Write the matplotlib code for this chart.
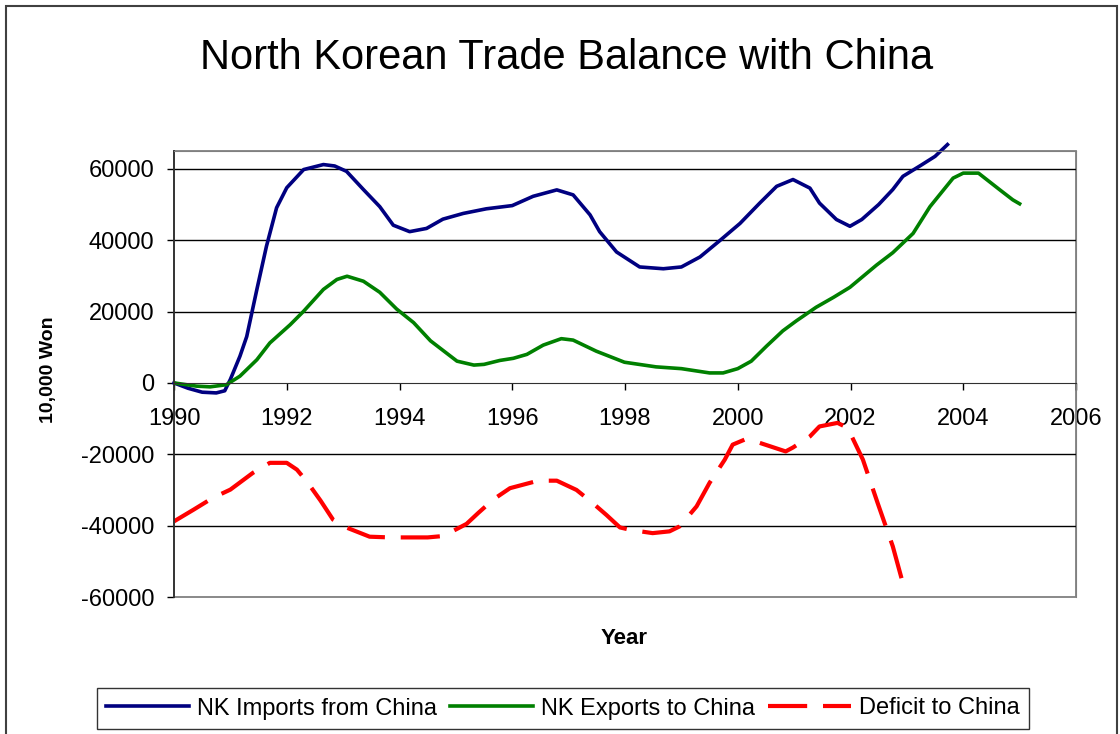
import matplotlib
matplotlib.use("Agg")
import matplotlib.pyplot as plt
from matplotlib.patches import Rectangle

plt.rcParams['font.family'] = ['Liberation Sans', 'DejaVu Sans']
plt.rcParams['axes.unicode_minus'] = False

# Data (10,000 Won)
imp_years = [1990.0, 1990.25, 1990.5, 1990.75, 1990.9, 1991.0, 1991.17, 1991.29, 1991.47,
             1991.64, 1991.82, 1992.0, 1992.3, 1992.65, 1992.85, 1993.06, 1993.36, 1993.65,
             1993.89, 1994.18, 1994.48, 1994.77, 1995.13, 1995.54, 1996.0, 1996.37, 1996.79,
             1997.08, 1997.38, 1997.55, 1997.85, 1998.26, 1998.68, 1999.0, 1999.33, 1999.69,
             2000.04, 2000.39, 2000.69, 2000.98, 2001.28, 2001.45, 2001.75, 2001.99, 2002.2,
             2002.5, 2002.75, 2002.93, 2003.25, 2003.5, 2003.72]
imp_values = [0, -1500, -2600, -2800, -2200, 1000, 7500, 13000, 26200,
              38300, 49100, 54700, 59800, 61200, 60800, 59300, 54200, 49400,
              44200, 42400, 43300, 45900, 47500, 48800, 49700, 52300, 54100,
              52700, 47100, 42400, 36700, 32500, 32000, 32500, 35300, 40000,
              44700, 50400, 55100, 57000, 54600, 50400, 45800, 43900, 45800,
              50000, 54200, 57900, 61000, 63500, 66800]

exp_years = [1990.0, 1990.4, 1990.64, 1990.93, 1991.17, 1991.47, 1991.7, 1992.06, 1992.3,
             1992.65, 1992.89, 1993.07, 1993.36, 1993.65, 1993.95, 1994.25, 1994.55, 1995.02,
             1995.32, 1995.5, 1995.78, 1996.02, 1996.26, 1996.55, 1996.87, 1997.08, 1997.49,
             1997.99, 1998.55, 1999.0, 1999.5, 1999.74, 2000.0, 2000.24, 2000.51, 2000.8,
             2001.04, 2001.39, 2001.7, 2001.99, 2002.46, 2002.75, 2003.11, 2003.41, 2003.82,
             2004.0, 2004.27, 2004.65, 2004.88, 2005.0]
exp_values = [0, -900, -1100, -500, 1900, 6500, 11200, 16300, 20100,
              26200, 29000, 29900, 28500, 25400, 20700, 16900, 11800, 6100,
              5000, 5200, 6300, 6900, 8000, 10600, 12400, 12000, 8900,
              5800, 4500, 4000, 2800, 2800, 4000, 6100, 10300, 14600,
              17400, 21200, 24000, 26800, 33000, 36500, 41900, 49400, 57400,
              58800, 58800, 54100, 51300, 50200]

def_years = [1990.0, 1990.35, 1990.69, 1991.0, 1991.4, 1991.7, 1992.0, 1992.18, 1992.36,
             1992.6, 1992.82, 1993.07, 1993.47, 1993.83, 1994.5, 1994.78, 1995.19, 1995.4,
             1995.67, 1995.96, 1996.46, 1996.79, 1997.14, 1997.4, 1997.67, 1997.91, 1998.1,
             1998.49, 1998.79, 1998.97, 1999.27, 1999.5, 1999.77, 1999.91, 2000.12, 2000.39,
             2000.85, 2000.98, 2001.28, 2001.45, 2001.77, 2001.95, 2002.22, 2002.48, 2002.75,
             2002.97]
def_values = [-38800, -35500, -32200, -29900, -25200, -22400, -22400, -24300, -27700,
              -33000, -38300, -40600, -43100, -43300, -43300, -42900, -39500, -36400,
              -32600, -29500, -27400, -27400, -30000, -33300, -37000, -40500, -41200,
              -42100, -41600, -40200, -34600, -28000, -21500, -17300, -15900, -16800,
              -19200, -18100, -15000, -12200, -11200, -12600, -21500, -33600, -45800,
              -58500]

x_ticks = [1990, 1992, 1994, 1996, 1998, 2000, 2002, 2004, 2006]
y_ticks = [-60000, -40000, -20000, 0, 20000, 40000, 60000]

fig = plt.figure(figsize=(11.2, 7.34), dpi=100)
ax = fig.add_axes([174 / 1120, 1 - 597 / 734, 902 / 1120, 446 / 734])

l1, = ax.plot(imp_years, imp_values, color='#000080', lw=2.6, clip_on=False,
              solid_joinstyle='round', label='NK Imports from China')
l2, = ax.plot(exp_years, exp_values, color='#008000', lw=2.6,
              solid_joinstyle='round', label='NK Exports to China')
l3, = ax.plot(def_years, def_values, color='#FF0000', lw=3, linestyle=(0, (9.4, 3.8)),
              label='Deficit to China')

ax.set_xlim(1990, 2006)
ax.set_ylim(-60000, 65000)
ax.set_xticks(x_ticks)
ax.set_yticks(y_ticks)
ax.tick_params(axis='x', direction='out', length=5, width=1, pad=13, labelsize=17)
ax.tick_params(axis='y', direction='out', length=5, width=1, pad=9, labelsize=17)

# gridlines (skip the bottom one, the frame is there)
ax.yaxis.grid(True, color='black', lw=1)
ax.set_axisbelow(True)
for val, gl in zip(y_ticks, ax.yaxis.get_gridlines()):
    if val in (-60000, 0):
        gl.set_visible(False)

# axes: x axis crosses at zero, grey plot-area border
ax.spines['bottom'].set_position(('data', 0))
ax.spines['bottom'].set_color('#303030')
ax.spines['left'].set_color('#303030')
ax.spines['top'].set_color('#808080')
ax.spines['right'].set_color('#808080')
ax.spines['left'].set_linewidth(1.3)
ax.add_patch(Rectangle((0, 0), 1, 1, transform=ax.transAxes, fill=False,
                       ec='#808080', lw=1.3, clip_on=False, zorder=0.5))

fig.text(567 / 1120, 1 - 58 / 734, 'North Korean Trade Balance with China',
         fontsize=30, ha='center', va='center')
fig.text(48 / 1120, 1 - 370 / 734, '10,000 Won', fontsize=14, fontweight='bold',
         rotation=90, ha='center', va='center')
fig.text(624 / 1120, 1 - 639 / 734, 'Year', fontsize=16, fontweight='bold',
         ha='center', va='center')

leg = fig.legend(handles=[l1, l2, l3], loc='center', bbox_to_anchor=(563 / 1120, 1 - 708.5 / 734),
                 ncol=3, fontsize=17, frameon=True, fancybox=False, edgecolor='black',
                 handlelength=3.5, handletextpad=0.35, columnspacing=0.55, borderpad=0.4)
leg.get_frame().set_linewidth(1)

# outer chart border
fig.add_artist(Rectangle((6 / 1120, -0.05), 1111 / 1120, 1.05 - 6 / 734,
                         transform=fig.transFigure, fill=False, ec='#404040', lw=1.5))

fig.savefig('out.png', dpi=100)
